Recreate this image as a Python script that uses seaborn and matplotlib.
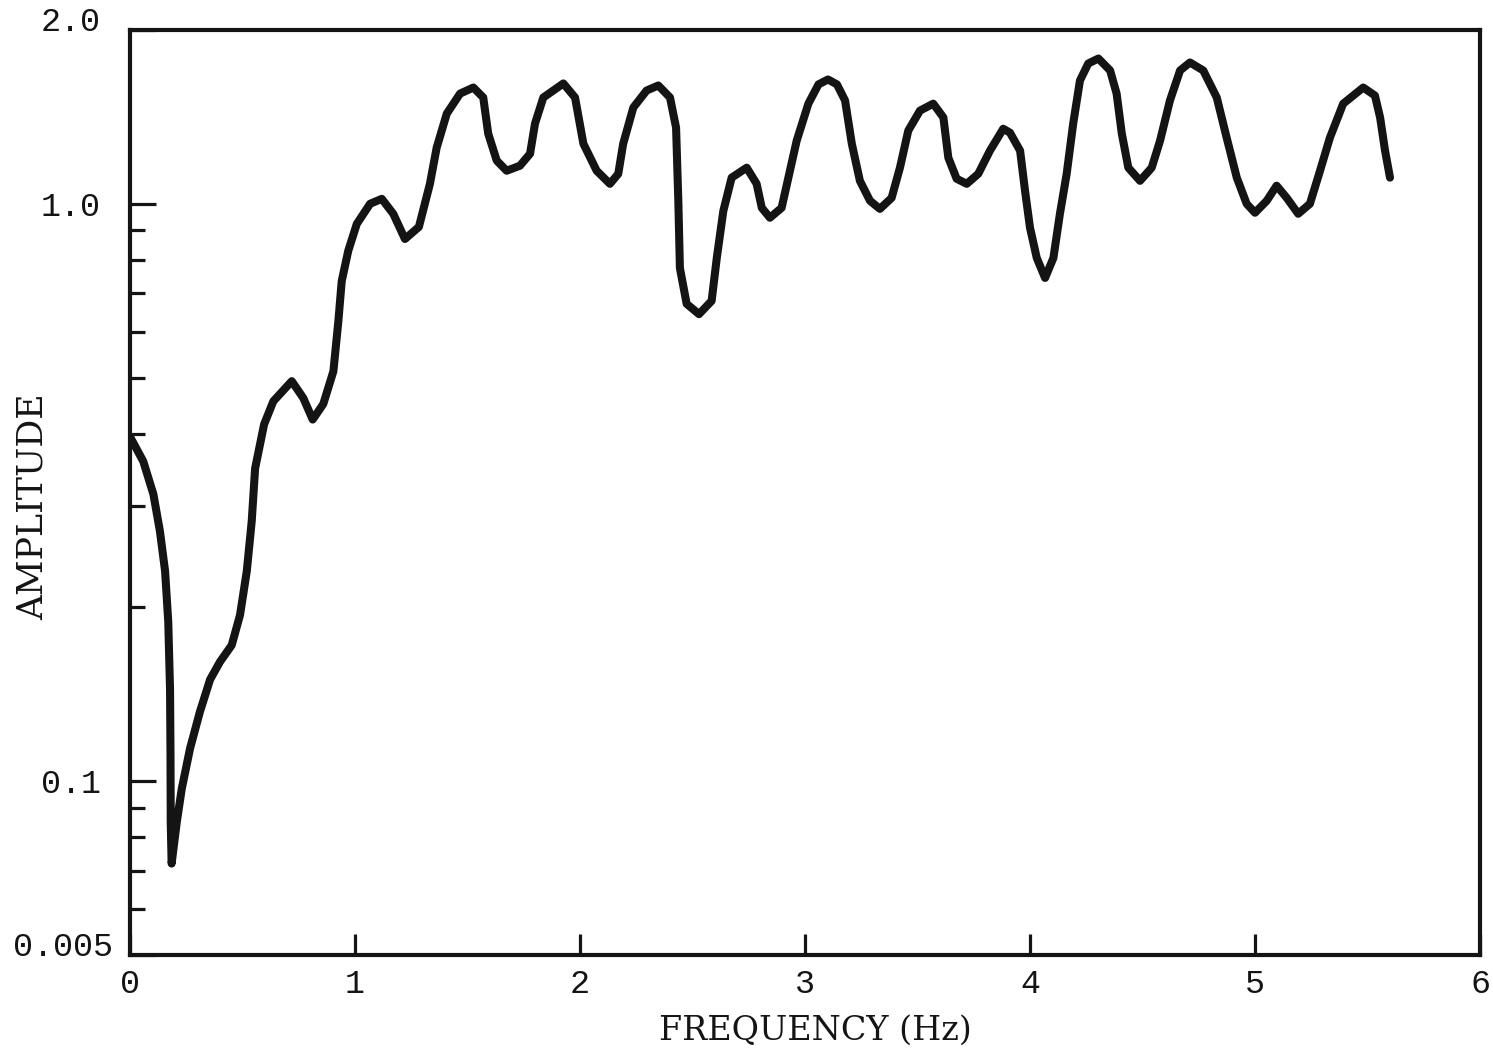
import matplotlib
matplotlib.use("Agg")
import matplotlib.pyplot as plt
import seaborn as sns
import pandas as pd
from matplotlib.ticker import FixedLocator, NullFormatter
from matplotlib.transforms import ScaledTranslation

# ---- data ----
freq_hz = [0.000, 0.059, 0.104, 0.133, 0.156, 0.170, 0.178, 0.180, 0.181, 0.185,
           0.208, 0.230, 0.267, 0.311, 0.356, 0.400, 0.452, 0.489, 0.519, 0.541,
           0.556, 0.596, 0.637, 0.719, 0.770, 0.812, 0.859, 0.904, 0.926, 0.941,
           0.970, 1.008, 1.067, 1.119, 1.170, 1.222, 1.284, 1.333, 1.363, 1.408,
           1.467, 1.526, 1.570, 1.592, 1.630, 1.674, 1.733, 1.778, 1.800, 1.837,
           1.926, 1.978, 2.015, 2.074, 2.133, 2.170, 2.192, 2.237, 2.296, 2.348,
           2.400, 2.427, 2.437, 2.444, 2.474, 2.529, 2.585, 2.608, 2.637, 2.674,
           2.741, 2.785, 2.808, 2.844, 2.896, 2.926, 2.963, 3.015, 3.060, 3.102,
           3.142, 3.178, 3.208, 3.244, 3.289, 3.333, 3.385, 3.422, 3.459, 3.511,
           3.570, 3.615, 3.637, 3.674, 3.719, 3.770, 3.822, 3.881, 3.911, 3.956,
           3.978, 4.000, 4.030, 4.067, 4.104, 4.133, 4.163, 4.192, 4.222, 4.259,
           4.304, 4.356, 4.385, 4.408, 4.437, 4.489, 4.541, 4.578, 4.622, 4.667,
           4.711, 4.770, 4.830, 4.874, 4.919, 4.963, 5.000, 5.052, 5.096, 5.141,
           5.192, 5.244, 5.289, 5.333, 5.392, 5.481, 5.533, 5.556, 5.578, 5.600]
amplitude = [0.395, 0.358, 0.314, 0.271, 0.231, 0.189, 0.144, 0.111, 0.085, 0.072,
             0.085, 0.097, 0.114, 0.132, 0.150, 0.161, 0.172, 0.194, 0.231, 0.282,
             0.348, 0.415, 0.455, 0.493, 0.461, 0.423, 0.450, 0.513, 0.626, 0.735,
             0.829, 0.923, 1.000, 1.020, 0.961, 0.869, 0.912, 1.083, 1.251, 1.433,
             1.552, 1.590, 1.528, 1.323, 1.188, 1.141, 1.164, 1.221, 1.377, 1.528,
             1.616, 1.528, 1.271, 1.141, 1.083, 1.127, 1.271, 1.468, 1.571, 1.603,
             1.528, 1.355, 1.012, 0.774, 0.671, 0.644, 0.679, 0.806, 0.972, 1.110,
             1.155, 1.083, 0.984, 0.946, 0.984, 1.110, 1.286, 1.491, 1.610, 1.642,
             1.610, 1.510, 1.271, 1.096, 1.012, 0.980, 1.024, 1.155, 1.339, 1.450,
             1.491, 1.411, 1.202, 1.105, 1.083, 1.127, 1.236, 1.349, 1.328, 1.236,
             1.053, 0.909, 0.806, 0.744, 0.806, 0.961, 1.127, 1.377, 1.635, 1.750,
             1.785, 1.702, 1.552, 1.323, 1.155, 1.096, 1.155, 1.286, 1.510, 1.702,
             1.757, 1.702, 1.528, 1.302, 1.110, 1.000, 0.965, 1.012, 1.075, 1.024,
             0.961, 1.000, 1.141, 1.302, 1.491, 1.590, 1.540, 1.411, 1.236, 1.110]

x_ticks = [0, 1, 2, 3, 4, 5, 6]
x_tick_labels = ["0", "1", "2", "3", "4", "5", "6"]
y_ticks = [0.05, 0.1, 1.0, 2.0]
y_tick_labels = ["0.005", "0.1", "1.0", "2.0"]
y_minor = [0.06, 0.07, 0.08, 0.09, 0.2, 0.3, 0.4, 0.5, 0.6, 0.7, 0.8, 0.9]

df = pd.DataFrame({"FREQUENCY (Hz)": freq_hz, "AMPLITUDE": amplitude})

sns.set_style("white")
plt.rcParams["font.family"] = ["Liberation Mono", "DejaVu Sans"]

ink = "#141414"
fig = plt.figure(figsize=(14.93, 10.53), dpi=100)
ax = fig.add_axes([130 / 1493, 1 - 955 / 1053, 1350 / 1493, 925 / 1053])

sns.lineplot(data=df, x="FREQUENCY (Hz)", y="AMPLITUDE", ax=ax, sort=False,
             color=ink, linewidth=5.8, solid_joinstyle="round",
             solid_capstyle="round")

ax.set_yscale("log")
ax.set_xlim(0, 6)
ax.set_ylim(0.05, 2.0)

ax.set_xticks(x_ticks)
ax.set_xticklabels(x_tick_labels)
ax.set_yticks(y_ticks)
ax.set_yticklabels(y_tick_labels)
ax.yaxis.set_minor_locator(FixedLocator(y_minor))
ax.yaxis.set_minor_formatter(NullFormatter())
ax.xaxis.set_minor_locator(FixedLocator([]))

ax.tick_params(bottom=True, left=True, top=False, right=False)
ax.tick_params(axis="both", which="major", direction="in", colors=ink,
               labelsize=24, width=2.3)
ax.tick_params(axis="y", which="major", length=19, pad=21)
ax.tick_params(axis="x", which="major", length=15, pad=10)
ax.tick_params(axis="y", which="minor", direction="in", length=11, width=2.3,
               colors=ink, left=True)

for s in ax.spines.values():
    s.set_visible(True)
    s.set_linewidth(3)
    s.set_color(ink)

# end labels of the y axis sit a little above the spines in the original
for lab in ax.get_yticklabels():
    if lab.get_text() == "2.0":
        lab.set_transform(lab.get_transform()
                          + ScaledTranslation(0, 8 / 72, fig.dpi_scale_trans))
    elif lab.get_text() == "0.005":
        lab.set_transform(lab.get_transform()
                          + ScaledTranslation(0.12, 8 / 72, fig.dpi_scale_trans))

ax.set_xlabel("FREQUENCY (Hz)", fontsize=24, family=["DejaVu Serif"], color=ink)
ax.set_ylabel("AMPLITUDE", fontsize=25, family=["DejaVu Serif"], color=ink)
ax.xaxis.set_label_coords(685 / 1350, -60 / 925)
ax.yaxis.set_label_coords(-80 / 1350, (955 - 507) / 925)

fig.savefig("out.png", dpi=100, facecolor="white")
